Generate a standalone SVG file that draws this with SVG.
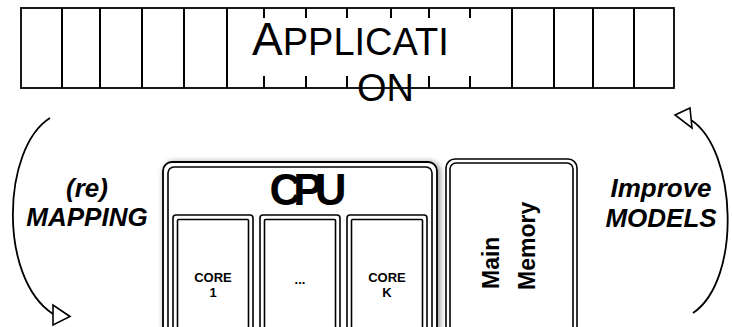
<svg xmlns="http://www.w3.org/2000/svg" width="732" height="327" viewBox="0 0 732 327">
<defs>
<filter id="sh" x="-10%" y="-10%" width="120%" height="120%">
<feGaussianBlur in="SourceAlpha" stdDeviation="3"/>
<feOffset dx="2" dy="1" result="b"/>
<feComponentTransfer><feFuncA type="linear" slope="0.45"/></feComponentTransfer>
<feMerge><feMergeNode/><feMergeNode in="SourceGraphic"/></feMerge>
</filter>
</defs>
<style>
.ln{stroke:#000;stroke-width:2;fill:none}
.box{stroke:#000;stroke-width:1.6;fill:#fff}
.strip{stroke:#000;stroke-width:1.8;fill:#fff}
.arc{stroke:#000;stroke-width:1.8;fill:none}
.head{stroke:#000;stroke-width:1.6;fill:#fff;stroke-linejoin:miter}
.sans{font-family:"Liberation Sans",Arial,sans-serif;fill:#000}
.lbl{font-family:"Liberation Sans",Arial,sans-serif;font-weight:bold;font-style:italic;font-size:26px;text-anchor:middle;fill:#000}
.core{font-family:"Liberation Sans",Arial,sans-serif;font-weight:bold;font-size:13px;text-anchor:middle;fill:#000}
</style>
<rect width="732" height="327" fill="#fff"/>

<g id="application">
<rect class="strip" x="21" y="8" width="653" height="80"/>
<path class="ln" d="M62,8V88M100,8V88M142,8V88M184,8V88M227,8V88M264,8V88M306,8V88M347,8V88M391,8V88M429,8V88M470,8V88M512,8V88M554,8V88M593,8V88M634,8V88"/>
<rect x="229.5" y="18" width="281" height="58" fill="#fff"/>
<text class="sans" x="252" y="55" font-size="38"><tspan font-size="46">A</tspan>PPLICATI</text>
<text class="sans" x="357" y="101" font-size="38">ON</text>
</g>

<g id="cpu">
<rect x="163" y="162" width="274" height="180" rx="9" fill="#fff" stroke="#000" stroke-width="1.8" filter="url(#sh)"/>
<rect class="box" x="168" y="167" width="264" height="175" rx="6"/>
<text class="sans" x="304" y="205" font-size="44" font-weight="bold" text-anchor="middle" letter-spacing="-8">CPU</text>
</g>

<g id="core1">
<rect class="box" x="173" y="215" width="80" height="130" rx="3"/>
<rect class="box" x="177.5" y="219.5" width="71" height="130" rx="1"/>
<text class="core" x="213" y="282">CORE</text>
<text class="core" x="213" y="297">1</text>
</g>

<g id="core2">
<rect class="box" x="260" y="215" width="80" height="130" rx="3"/>
<rect class="box" x="264.5" y="219.5" width="71" height="130" rx="1"/>
<text class="core" x="300" y="284">...</text>
</g>

<g id="corek">
<rect class="box" x="347" y="215" width="80" height="130" rx="3"/>
<rect class="box" x="351.5" y="219.5" width="71" height="130" rx="1"/>
<text class="core" x="387" y="282">CORE</text>
<text class="core" x="387" y="297">K</text>
</g>

<g id="memory">
<rect class="box" x="446" y="159" width="131" height="180" rx="9"/>
<rect class="box" x="450" y="163" width="123" height="176" rx="6"/>
<text class="sans" font-size="23" font-weight="bold" transform="translate(499,289) rotate(-90)">Main</text>
<text class="sans" font-size="23" font-weight="bold" transform="translate(535,290) rotate(-90)">Memory</text>
</g>

<g id="connectors">
<path class="arc" d="M50,118 C2,148 -2,278 53,314"/>
<polygon class="head" points="53,305 53,325 70,316.5"/>
<path class="arc" d="M691,120 C737,150 742,280 693,313"/>
<polygon class="head" points="675,115 690,108 692,128"/>
</g>

<g id="labels">
<text class="lbl" x="87" y="197">(re)</text>
<text class="lbl" x="87" y="226">MAPPING</text>
<text class="lbl" x="661" y="197">Improve</text>
<text class="lbl" x="661" y="227">MODELS</text>
</g>
</svg>
